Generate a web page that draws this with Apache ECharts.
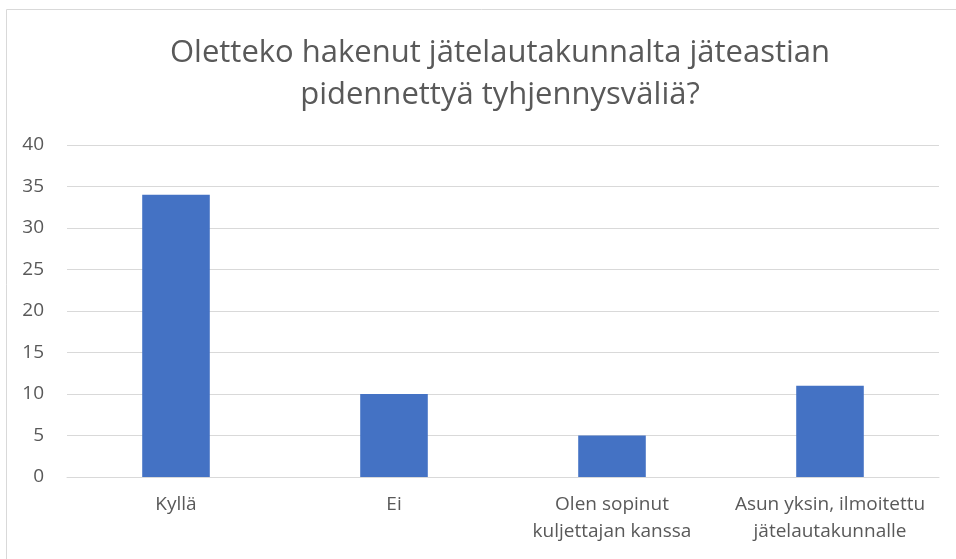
<!DOCTYPE html>
<html>
<head>
<meta charset="utf-8">
<script src="https://cdn.jsdelivr.net/npm/echarts@6/dist/echarts.min.js"></script>
<style>
  html, body { margin: 0; padding: 0; background: #fff; }
  #chart { width: 956px; height: 559px; }
</style>
</head>
<body>
<div id="chart"></div>
<script>
// data
const categories = ['Kyllä', 'Ei', 'Olen sopinut\nkuljettajan kanssa', 'Asun yksin, ilmoitettu\njätelautakunnalle'];
const counts = [34, 10, 5, 11];
const yTicks = { min: 0, max: 40, interval: 5 };

const textColor = '#595959';
const font = 'Open Sans';

let myChart = echarts.init(document.getElementById('chart'));
myChart.setOption({
    animation: false,
    title: {
        text: 'Oletteko hakenut jätelautakunnalta jäteastian\npidennettyä tyhjennysväliä?',
        left: 495,
        top: 27,
        textAlign: 'center',
        textStyle: {
            fontFamily: font,
            fontSize: 31,
            fontWeight: 'normal',
            color: textColor,
            lineHeight: 42
        }
    },
    graphic: [{
        type: 'rect',
        shape: { x: 6.5, y: 9.5, width: 1000, height: 600 },
        style: { fill: null, stroke: '#d9d9d9', lineWidth: 1 },
        silent: true
    }],
    grid: { left: 67, right: 17, top: 145, bottom: 82 },
    xAxis: {
        type: 'category',
        data: categories,
        axisLine: { show: true, lineStyle: { color: '#d9d9d9' } },
        axisTick: { show: false },
        axisLabel: {
            fontFamily: font,
            fontSize: 19,
            color: textColor,
            lineHeight: 27,
            margin: 14,
            interval: 0
        }
    },
    yAxis: {
        type: 'value',
        min: yTicks.min,
        max: yTicks.max,
        interval: yTicks.interval,
        axisLine: { show: false },
        axisTick: { show: false },
        splitLine: { lineStyle: { color: '#d9d9d9', width: 1 } },
        axisLabel: {
            fontFamily: font,
            fontSize: 19,
            color: textColor,
            margin: 23
        }
    },
    series: [{
        type: 'bar',
        data: counts,
        barWidth: '31%',
        itemStyle: { color: '#4472c4' }
    }]
});
</script>
</body>
</html>
